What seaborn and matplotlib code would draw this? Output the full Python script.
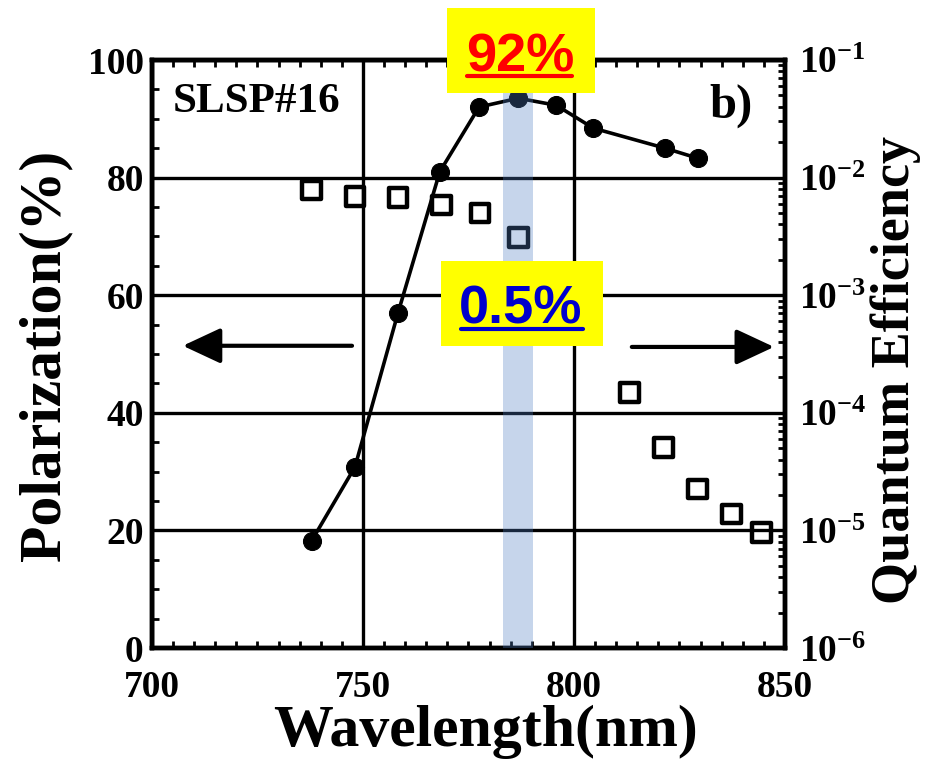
import numpy as np
import pandas as pd
import matplotlib
matplotlib.use("Agg")
import matplotlib.pyplot as plt
import seaborn as sns
from matplotlib.patches import Rectangle
from matplotlib.lines import Line2D
from matplotlib.ticker import MultipleLocator, FixedLocator, LogLocator, NullFormatter

# ---------------- data ----------------
wavelength_pol = [737.8, 748.1, 758.3, 768.2, 777.5, 786.8, 795.8, 804.6, 821.6, 829.3]
polarization = [18.2, 30.8, 57.0, 81.0, 92.0, 93.5, 92.3, 88.4, 85.0, 83.3]

wavelength_qe = [737.8, 748.1, 758.3, 768.6, 777.7, 786.8, 813.1, 821.2, 829.2, 837.3, 844.4]
quantum_eff = [7.85e-3, 6.9e-3, 6.8e-3, 5.85e-3, 5.0e-3, 3.1e-3, 1.49e-4, 5.1e-5, 2.25e-5, 1.38e-5, 9.6e-6]

x_ticks = [700, 750, 800, 850]
pol_ticks = [0, 20, 40, 60, 80, 100]
qe_ticks = [1e-6, 1e-5, 1e-4, 1e-3, 1e-2, 1e-1]
qe_tick_labels = [r"$10^{-6}$", r"$10^{-5}$", r"$10^{-4}$", r"$10^{-3}$", r"$10^{-2}$", r"$10^{-1}$"]

band_range = (783.2, 790.3)
label_peak = "92%"
label_qe = "0.5%"
panel_name = "SLSP#16"
panel_letter = "b)"

pol_df = pd.DataFrame({"Wavelength": wavelength_pol, "Polarization": polarization})
qe_df = pd.DataFrame({"Wavelength": wavelength_qe, "QE": quantum_eff})

# ---------------- style ----------------
sns.set_theme(style="white")
plt.rcParams["font.family"] = ["Liberation Serif", "DejaVu Serif"]
plt.rcParams["font.weight"] = "bold"
plt.rcParams["mathtext.fontset"] = "custom"
plt.rcParams["mathtext.rm"] = "Liberation Serif:bold"
plt.rcParams["mathtext.it"] = "Liberation Serif:bold"
plt.rcParams["mathtext.bf"] = "Liberation Serif:bold"

W, H = 938, 759
fig = plt.figure(figsize=(W / 100, H / 100), dpi=100)
fig.patch.set_facecolor("white")

def fx(px):
    return px / W

def fy(py):
    return 1 - py / H

ax = fig.add_axes([fx(152), fy(648), fx(785) - fx(152), fy(60) - fy(648)])
ax.set_facecolor("white")
ax2 = ax.twinx()

# polarization line with filled circles
sns.lineplot(data=pol_df, x="Wavelength", y="Polarization", ax=ax, color="black",
             linewidth=2.6, marker="o", markersize=13, markeredgecolor="black",
             markerfacecolor="black", zorder=4, legend=False)

# quantum efficiency open squares
sns.scatterplot(data=qe_df, x="Wavelength", y="QE", ax=ax2, marker="s", s=180,
                facecolor="none", edgecolor="black", linewidth=3.2, zorder=4, legend=False)

ax.set_xlim(700, 850)
ax.set_ylim(0, 100)
ax2.set_yscale("log")
ax2.set_ylim(1e-6, 1e-1)

ax.xaxis.set_major_locator(FixedLocator(x_ticks))
ax.xaxis.set_minor_locator(MultipleLocator(5))
ax.yaxis.set_major_locator(FixedLocator(pol_ticks))
ax.yaxis.set_minor_locator(MultipleLocator(5))
ax.set_xticklabels([str(v) for v in x_ticks])
ax.set_yticklabels([str(v) for v in pol_ticks])

ax2.yaxis.set_major_locator(FixedLocator(qe_ticks))
ax2.set_yticklabels(qe_tick_labels)
ax2.yaxis.set_minor_locator(LogLocator(base=10, subs=np.arange(2, 10)))
ax2.yaxis.set_minor_formatter(NullFormatter())

ax.grid(True, which="major", color="black", linewidth=2.4)
ax.set_axisbelow(True)

for a in (ax, ax2):
    for s in a.spines.values():
        s.set_linewidth(3.2)
        s.set_color("black")

ax.tick_params(axis="x", which="both", direction="in", top=True, bottom=True,
               colors="black", labelsize=27, pad=16)
ax.tick_params(axis="x", which="major", length=9, width=2)
ax.tick_params(axis="x", which="minor", length=5, width=2)
ax.tick_params(axis="y", which="both", direction="in", left=True, right=False,
               colors="black", labelsize=27, pad=6)
ax.tick_params(axis="y", which="major", length=9, width=2)
ax.tick_params(axis="y", which="minor", length=5, width=2)
ax2.tick_params(axis="y", which="both", direction="in", right=True, left=False,
                colors="black", labelsize=27, pad=10)
ax2.tick_params(axis="y", which="major", length=9, width=2)
ax2.tick_params(axis="y", which="minor", length=5, width=2)

for lab in ax.get_xticklabels() + ax.get_yticklabels() + ax2.get_yticklabels():
    lab.set_fontweight("bold")

ax.set_xlabel("Wavelength(nm)", fontsize=43, fontweight="bold", color="black")
ax.xaxis.set_label_coords((485 - 152) / 633, (648 - 732) / 588)
ax.xaxis.label.set_verticalalignment("center")
ax.set_ylabel("Polarization(%)", fontsize=43, fontweight="bold", color="black")
ax.yaxis.set_label_coords((45 - 152) / 633, (648 - 355) / 588)
ax.yaxis.label.set_verticalalignment("center")
ax2.set_ylabel("Quantum Efficiency", fontsize=39, fontweight="bold", color="black",
               rotation=90)
ax2.yaxis.set_label_coords((896 - 152) / 633, (648 - 370) / 588)
ax2.yaxis.label.set_verticalalignment("center")

# arrows
ax.annotate("", xy=(707.3, 51.4), xytext=(747.4, 51.4),
            arrowprops=dict(arrowstyle="-|>,head_length=0.9,head_width=0.42",
                            lw=3, color="black", mutation_scale=26, shrinkA=0, shrinkB=0),
            zorder=5)
ax.annotate("", xy=(847.4, 51.2), xytext=(813.7, 51.2),
            arrowprops=dict(arrowstyle="-|>,head_length=0.9,head_width=0.42",
                            lw=3, color="black", mutation_scale=26, shrinkA=0, shrinkB=0),
            zorder=5)

# panel texts
ax.text(fx(173), fy(112), panel_name, transform=fig.transFigure, fontsize=31,
        fontweight="bold", ha="left", va="baseline", color="black", zorder=6)
ax.text(fx(709), fy(118), panel_letter, transform=fig.transFigure, fontsize=35,
        fontweight="bold", ha="left", va="baseline", color="black", zorder=6)

# highlighted band
ax2.axvspan(band_range[0], band_range[1], color="#4f7fc2", alpha=0.32, linewidth=0, zorder=8)

# yellow annotation boxes
fig.patches.append(Rectangle((fx(447), fy(93)), fx(595) - fx(447), fy(8) - fy(93),
                             transform=fig.transFigure, facecolor="#ffff00",
                             edgecolor="none", zorder=10))
fig.patches.append(Rectangle((fx(441), fy(346)), fx(603) - fx(441), fy(261) - fy(346),
                             transform=fig.transFigure, facecolor="#ffff00",
                             edgecolor="none", zorder=10))
fig.text(fx(520), fy(72), label_peak, fontsize=39, fontweight="bold", color="#ff0000",
         family=["Liberation Sans", "DejaVu Sans"], ha="center", va="baseline", zorder=11)
fig.text(fx(521), fy(323), label_qe, fontsize=39, fontweight="bold", color="#0000cc",
         family=["Liberation Sans", "DejaVu Sans"], ha="center", va="baseline", zorder=11)
fig.lines.append(Line2D([fx(467), fx(572)], [fy(76), fy(76)], transform=fig.transFigure,
                        color="#ff0000", linewidth=3, zorder=11))
fig.lines.append(Line2D([fx(461), fx(583)], [fy(329), fy(329)], transform=fig.transFigure,
                        color="#0000cc", linewidth=3, zorder=11))

fig.savefig("out.png", dpi=100, facecolor="white")
